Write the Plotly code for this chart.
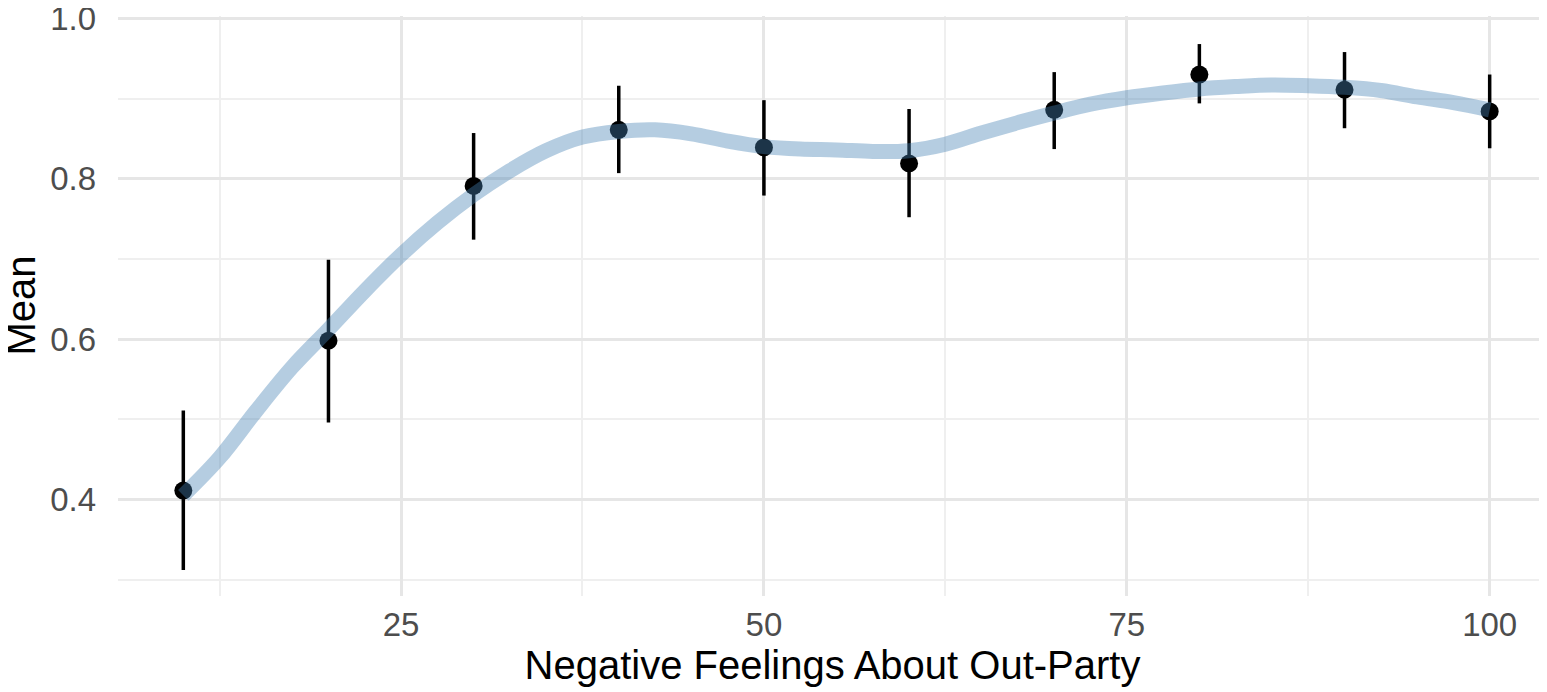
import plotly.graph_objects as go

# Binned means with 95% intervals
feel_x = [10, 20, 30, 40, 50, 60, 70, 80, 90, 100]
mean_y = [0.411, 0.598, 0.791, 0.861, 0.839, 0.819, 0.886, 0.930, 0.911, 0.884]
ci_hi = [0.511, 0.699, 0.857, 0.916, 0.898, 0.887, 0.933, 0.968, 0.958, 0.930]
ci_lo = [0.312, 0.496, 0.724, 0.807, 0.779, 0.752, 0.837, 0.894, 0.863, 0.838]

# Smoothed fit
smooth_x = [10, 12.5, 15, 17.5, 20, 22.5, 25, 27.5, 30, 32.5, 35, 37.5, 40, 42.5,
            45, 47.5, 50, 52.5, 55, 57.5, 60, 62.5, 65, 67.5, 70, 72.5, 75, 77.5,
            80, 82.5, 85, 87.5, 90, 92.5, 95, 97.5, 100]
smooth_y = [0.405, 0.452, 0.510, 0.565, 0.612, 0.660, 0.705, 0.745, 0.780, 0.810,
            0.835, 0.852, 0.859, 0.861, 0.856, 0.847, 0.840, 0.837, 0.836, 0.834,
            0.835, 0.843, 0.857, 0.870, 0.882, 0.893, 0.901, 0.907, 0.912, 0.915,
            0.917, 0.916, 0.914, 0.910, 0.902, 0.895, 0.886]

x_ticks = [25, 50, 75, 100]
y_ticks = [0.4, 0.6, 0.8, 1.0]

err_plus = [h - m for h, m in zip(ci_hi, mean_y)]
err_minus = [m - l for m, l in zip(mean_y, ci_lo)]

fig = go.Figure()
fig.add_trace(go.Scatter(
    x=feel_x, y=mean_y, mode="markers",
    marker=dict(color="black", size=18),
    error_y=dict(type="data", array=err_plus, arrayminus=err_minus,
                 color="black", thickness=3.5, width=0),
    showlegend=False, hoverinfo="skip", cliponaxis=False))
fig.add_trace(go.Scatter(
    x=smooth_x, y=smooth_y, mode="lines",
    line=dict(color="rgba(70,130,180,0.4)", width=15, shape="spline"),
    showlegend=False, hoverinfo="skip"))

# page body has an 8px margin; margins below compensate for it
fig.update_layout(
    width=1547, height=692,
    margin=dict(l=110, r=8, t=8, b=104),
    plot_bgcolor="white", paper_bgcolor="white",
    font=dict(family="Liberation Sans, Arial, sans-serif"),
)
fig.add_annotation(
    text="Mean", xref="paper", yref="paper", x=-0.0682, y=0.5,
    xanchor="center", yanchor="middle", textangle=-90, showarrow=False,
    font=dict(size=40, color="black"))
fig.update_xaxes(
    range=[5.5, 103.95], tickvals=x_ticks, ticktext=[str(v) for v in x_ticks],
    showgrid=True, gridcolor="#e6e6e6", gridwidth=3, zeroline=False,
    showline=False, ticks="", ticklabelstandoff=6, automargin=False,
    ticklabeloverflow="allow",
    minor=dict(tickvals=[12.5, 37.5, 62.5, 87.5], showgrid=True,
               gridcolor="#efefef", gridwidth=2),
    tickfont=dict(size=33, color="#4d4d4d"),
    title=dict(text="Negative Feelings About Out-Party",
               font=dict(size=40, color="black"), standoff=0),
)
fig.update_yaxes(
    range=[0.2795, 1.003], tickvals=y_ticks,
    ticktext=[f"{v:.1f}" for v in y_ticks],
    showgrid=True, gridcolor="#e6e6e6", gridwidth=3, zeroline=False,
    showline=False, ticks="", ticklabelstandoff=21, automargin=False,
    ticklabeloverflow="allow",
    minor=dict(tickvals=[0.3, 0.5, 0.7, 0.9], showgrid=True,
               gridcolor="#efefef", gridwidth=2),
    tickfont=dict(size=33, color="#4d4d4d"),
)

fig.write_html("out.html")
